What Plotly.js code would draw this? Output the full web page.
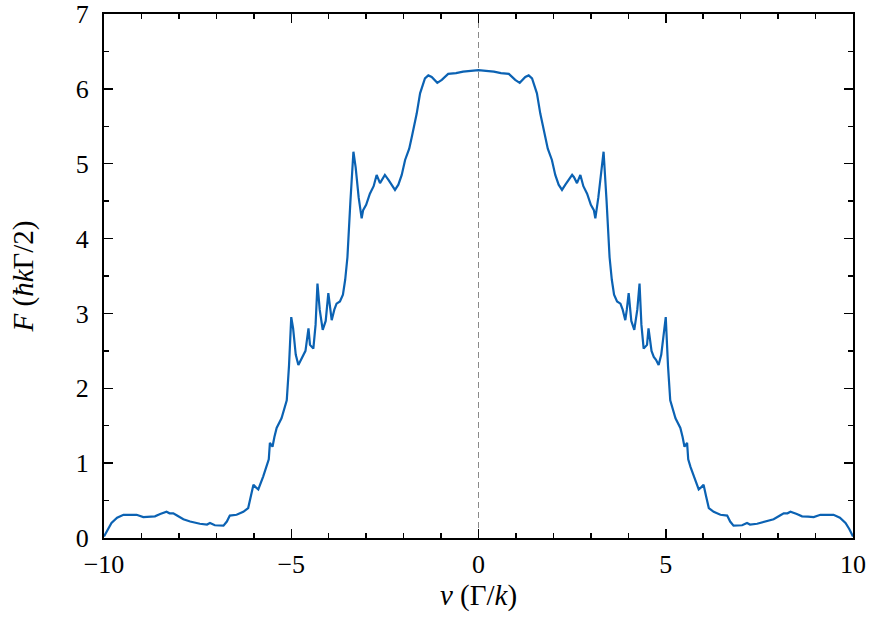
<!DOCTYPE html>
<html>
<head>
<meta charset="utf-8">
<script src="https://cdn.plot.ly/plotly-3.0.1.min.js"></script>
<style>html,body{margin:0;padding:0;background:#fff;}#chart{width:873px;height:634px;}</style>
</head>
<body>
<div id="chart"></div>
<script>
const velocity = [
 -10.00,-9.90,-9.80,-9.65,-9.48,-9.30,-9.13,-8.95,-8.80,-8.64,-8.50,-8.33,-8.25,-8.15,-8.05,-7.88,-7.70,-7.44,-7.25,-7.17,-7.04,-6.81,-6.72,-6.64,-6.46,-6.36,-6.28,-6.15,-6.08,-6.01,-5.95,-5.88,-5.75,-5.66,-5.60,-5.57,-5.50,-5.45,-5.39,-5.26,-5.12,-5.06,-5.00,-4.95,-4.88,-4.81,-4.74,-4.68,-4.62,-4.54,-4.50,-4.41,-4.35,-4.30,-4.24,-4.16,-4.08,-4.01,-3.96,-3.92,-3.85,-3.79,-3.70,-3.62,-3.56,-3.50,-3.42,-3.34,-3.28,-3.20,-3.12,-3.08,-3.00,-2.90,-2.80,-2.72,-2.63,-2.55,-2.50,-2.40,-2.32,-2.23,-2.14,-2.05,-1.96,-1.85,-1.78,-1.65,-1.56,-1.43,-1.34,-1.25,-1.10,-0.98,-0.81,-0.60,-0.41,-0.20,
 0.00,
 0.20,0.41,0.60,0.81,0.98,1.10,1.25,1.34,1.43,1.56,1.65,1.78,1.85,1.96,2.05,2.14,2.23,2.32,2.40,2.50,2.55,2.63,2.72,2.80,2.90,3.00,3.08,3.12,3.20,3.28,3.34,3.42,3.50,3.56,3.62,3.70,3.79,3.85,3.92,3.96,4.01,4.08,4.16,4.24,4.30,4.35,4.41,4.50,4.54,4.62,4.68,4.74,4.81,4.88,4.95,5.00,5.06,5.12,5.26,5.39,5.45,5.50,5.57,5.60,5.66,5.75,5.88,5.95,6.01,6.08,6.15,6.28,6.36,6.46,6.64,6.72,6.81,7.04,7.17,7.25,7.44,7.70,7.88,8.05,8.15,8.25,8.33,8.50,8.64,8.80,8.95,9.13,9.30,9.48,9.65,9.80,9.90,10.00
];
const force = [
 0.02,0.12,0.20,0.27,0.31,0.31,0.31,0.28,0.285,0.29,0.32,0.35,0.33,0.33,0.30,0.25,0.22,0.19,0.18,0.20,0.17,0.165,0.22,0.30,0.31,0.33,0.35,0.40,0.55,0.71,0.68,0.65,0.82,0.95,1.05,1.27,1.22,1.35,1.47,1.60,1.84,2.30,2.95,2.80,2.45,2.31,2.38,2.42,2.50,2.80,2.58,2.53,2.85,3.40,3.05,2.78,2.90,3.27,3.05,2.91,3.05,3.13,3.16,3.25,3.45,3.75,4.50,5.16,4.95,4.55,4.27,4.38,4.45,4.60,4.70,4.85,4.74,4.82,4.85,4.78,4.72,4.65,4.72,4.85,5.05,5.20,5.36,5.67,5.94,6.14,6.18,6.16,6.08,6.12,6.20,6.21,6.23,6.24,
 6.25,
 6.24,6.23,6.21,6.20,6.12,6.08,6.16,6.18,6.14,5.94,5.67,5.36,5.20,5.05,4.85,4.72,4.65,4.72,4.78,4.85,4.82,4.74,4.85,4.70,4.60,4.45,4.38,4.27,4.55,4.95,5.16,4.50,3.75,3.45,3.25,3.16,3.13,3.05,2.91,3.05,3.27,2.90,2.78,3.05,3.40,2.85,2.53,2.58,2.80,2.50,2.42,2.38,2.31,2.45,2.80,2.95,2.30,1.84,1.60,1.47,1.35,1.22,1.27,1.05,0.95,0.82,0.65,0.68,0.71,0.55,0.40,0.35,0.33,0.31,0.30,0.22,0.165,0.17,0.20,0.18,0.19,0.22,0.25,0.30,0.33,0.33,0.35,0.32,0.29,0.285,0.28,0.31,0.31,0.31,0.27,0.20,0.12,0.02
];
const guideX = [0, 0];
const guideY = [0, 7];
const xTickVals = [-10, -5, 0, 5, 10];
const yTickVals = [0, 1, 2, 3, 4, 5, 6, 7];

const serif = '"Liberation Serif", "DejaVu Serif", serif';

const traces = [
  {x: guideX, y: guideY, mode: 'lines', line: {color: '#8a8a8a', width: 1, dash: '6px,4px'}, hoverinfo: 'skip', showlegend: false},
  {x: velocity, y: force, mode: 'lines', line: {color: '#0b62b3', width: 2.2, shape: 'linear'}, showlegend: false}
];

const layout = {
  width: 873, height: 634,
  margin: {l: 104, r: 20, t: 14, b: 96},
  paper_bgcolor: '#fff', plot_bgcolor: '#fff',
  font: {family: serif, size: 26, color: '#000'},
  xaxis: {
    range: [-10, 10], tickvals: xTickVals, ticks: 'inside', ticklen: 9, tickwidth: 1.5, tickcolor: '#000',
    showline: true, linecolor: '#000', linewidth: 2, mirror: 'allticks', showgrid: false, zeroline: false,
    minor: {dtick: 1, ticks: 'inside', ticklen: 5, tickwidth: 1.5, tickcolor: '#000', showgrid: false},
    tickfont: {family: serif, size: 26}, ticklabelstandoff: 2,
    title: {text: '<i>v</i> (Γ/<i>k</i>)', font: {family: serif, size: 29}, standoff: 6}
  },
  yaxis: {
    range: [0, 7], tickvals: yTickVals, ticks: 'inside', ticklen: 9, tickwidth: 1.5, tickcolor: '#000',
    showline: true, linecolor: '#000', linewidth: 2, mirror: 'allticks', showgrid: false, zeroline: false,
    minor: {dtick: 0.5, ticks: 'inside', ticklen: 5, tickwidth: 1.5, tickcolor: '#000', showgrid: false},
    tickfont: {family: serif, size: 26}, ticklabelstandoff: 8,
    title: {text: '<i>F</i> (<i>ħk</i>Γ/2)', font: {family: serif, size: 29}, standoff: 34}
  }
};

Plotly.newPlot('chart', traces, layout, {displayModeBar: false, staticPlot: true});
</script>
</body>
</html>
